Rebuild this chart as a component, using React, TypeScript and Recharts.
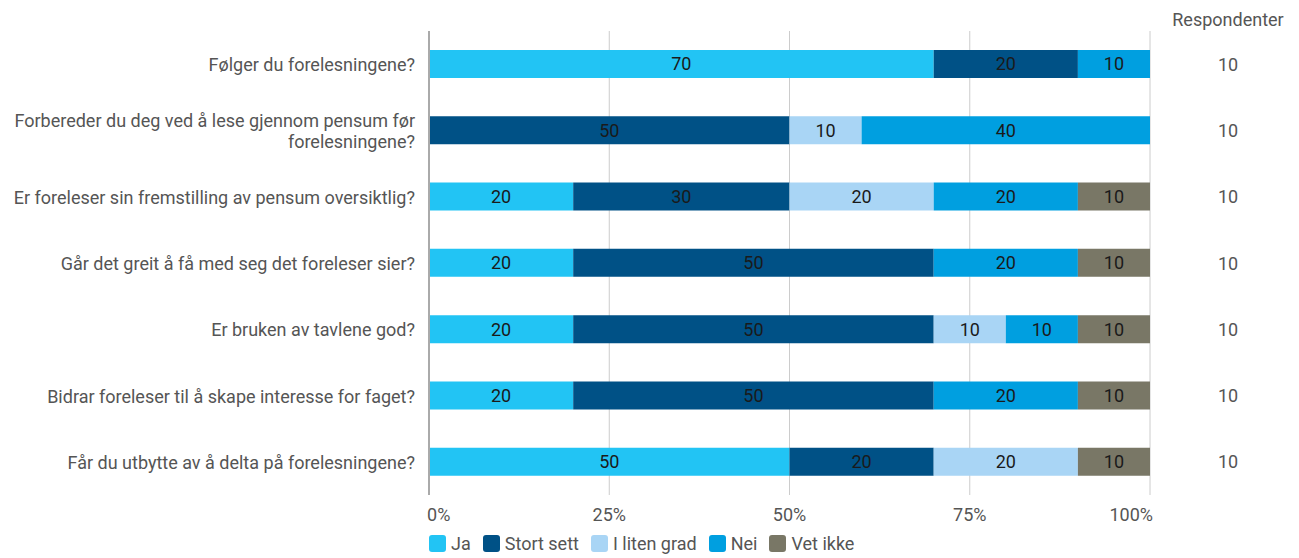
import React from "react";
import {
  BarChart,
  Bar,
  XAxis,
  YAxis,
  CartesianGrid,
  Legend,
  LabelList,
} from "recharts";

const questions = [
  "Følger du forelesningene?",
  "Forbereder du deg ved å lese gjennom pensum før forelesningene?",
  "Er foreleser sin fremstilling av pensum oversiktlig?",
  "Går det greit å få med seg det foreleser sier?",
  "Er bruken av tavlene god?",
  "Bidrar foreleser til å skape interesse for faget?",
  "Får du utbytte av å delta på forelesningene?",
];

const ja = [70, 0, 20, 20, 20, 20, 50];
const stortSett = [20, 50, 30, 50, 50, 50, 20];
const litenGrad = [0, 10, 20, 0, 10, 0, 20];
const nei = [10, 40, 20, 20, 10, 20, 0];
const vetIkke = [0, 0, 10, 10, 10, 10, 10];
const respondenter = [10, 10, 10, 10, 10, 10, 10];

const xTicks = [0, 25, 50, 75, 100];

const series = [
  { key: "ja", name: "Ja", color: "#22C4F4" },
  { key: "stortSett", name: "Stort sett", color: "#005186" },
  { key: "litenGrad", name: "I liten grad", color: "#A9D5F5" },
  { key: "nei", name: "Nei", color: "#009FE0" },
  { key: "vetIkke", name: "Vet ikke", color: "#797766" },
];

const data = questions.map((q, i) => ({
  q,
  ja: ja[i],
  stortSett: stortSett[i],
  litenGrad: litenGrad[i],
  nei: nei[i],
  vetIkke: vetIkke[i],
  resp: respondenter[i],
}));

const FONT = "Roboto, sans-serif";
const FS = 18;

function splitLabel(s: string): string[] {
  if (s.length <= 55) return [s];
  const words = s.split(" ");
  const lines: string[] = [];
  let cur = "";
  for (const w of words) {
    const next = cur ? cur + " " + w : w;
    if (next.length > 50 && cur) {
      lines.push(cur);
      cur = w;
    } else {
      cur = next;
    }
  }
  if (cur) lines.push(cur);
  return lines;
}

const LeftTick = (props: any) => {
  const { x, y, payload } = props;
  const lines = splitLabel(payload.value);
  const lh = 21;
  const start = y - ((lines.length - 1) * lh) / 2;
  return (
    <text
      x={x}
      y={start}
      textAnchor="end"
      fill="#555"
      fontSize={FS}
      fontFamily={FONT}
      dominantBaseline="central"
    >
      {lines.map((l, i) => (
        <tspan key={i} x={x} y={start + i * lh} dominantBaseline="central">
          {l}
        </tspan>
      ))}
    </text>
  );
};

const RightTick = (props: any) => {
  const { x, y, index } = props;
  return (
    <text
      x={x + 78}
      y={y}
      textAnchor="middle"
      dominantBaseline="central"
      fill="#555"
      fontSize={FS}
      fontFamily={FONT}
    >
      {respondenter[index]}
    </text>
  );
};

const BottomTick = (props: any) => {
  const { x, y, payload, index } = props;
  let anchor: "start" | "middle" | "end" = "middle";
  let dx = 0;
  if (index === 0) {
    anchor = "start";
    dx = -2;
  } else if (index === xTicks.length - 1) {
    anchor = "end";
    dx = 3;
  }
  return (
    <text
      x={x + dx}
      y={y + 11}
      textAnchor={anchor}
      dominantBaseline="central"
      fill="#555"
      fontSize={FS}
      fontFamily={FONT}
    >
      {payload.value}%
    </text>
  );
};

const LegendContent = () => (
  <div
    style={{
      display: "flex",
      alignItems: "center",
      paddingLeft: 429,
      height: 33,
      paddingTop: 4,
      boxSizing: "border-box",
      fontFamily: FONT,
      fontSize: FS,
      color: "#555",
    }}
  >
    {series.map((s) => (
      <div
        key={s.key}
        style={{ display: "flex", alignItems: "center", marginRight: 12 }}
      >
        <div
          style={{
            width: 17,
            height: 17,
            borderRadius: 3,
            background: s.color,
            marginRight: 5,
          }}
        />
        <span>{s.name}</span>
      </div>
    ))}
  </div>
);

export default function App() {
  return (
    <div
      style={{
        position: "absolute",
        left: 0,
        top: 0,
        width: 1299,
        height: 558,
        background: "#fff",
      }}
    >
      <div
        style={{
          position: "absolute",
          left: 1168,
          top: 9,
          width: 120,
          textAlign: "center",
          fontFamily: FONT,
          fontSize: FS,
          lineHeight: "22px",
          color: "#555",
        }}
      >
        Respondenter
      </div>
      <BarChart
        width={1299}
        height={558}
        data={data}
        layout="vertical"
        margin={{ top: 31, right: 0, bottom: 0, left: 0 }}
        barSize={28}
      >
        <CartesianGrid horizontal={false} stroke="#ccc" />
        <XAxis
          type="number"
          domain={[0, 100]}
          ticks={xTicks}
          axisLine={false}
          tickLine={false}
          height={30}
          tick={<BottomTick />}
          interval={0}
        />
        <YAxis
          yAxisId="left"
          type="category"
          dataKey="q"
          width={429}
          axisLine={{ stroke: "#aaa", strokeWidth: 2 }}
          tickLine={false}
          tickMargin={8}
          tick={<LeftTick />}
          interval={0}
        />
        <YAxis
          yAxisId="right"
          orientation="right"
          type="category"
          dataKey="q"
          width={149}
          axisLine={false}
          tickLine={false}
          tickSize={0}
          tickMargin={0}
          tick={<RightTick />}
          interval={0}
        />
        <Legend
          verticalAlign="bottom"
          content={<LegendContent />}
          wrapperStyle={{ left: 0, width: 1299 }}
        />
        {series.map((s) => (
          <Bar
            key={s.key}
            yAxisId="left"
            dataKey={s.key}
            name={s.name}
            stackId="a"
            fill={s.color}
            isAnimationActive={false}
          >
            <LabelList
              dataKey={s.key}
              position="center"
              fill="#1a1a1a"
              fontSize={FS}
              fontFamily={FONT}
              formatter={(v: any) => (v ? v : "")}
            />
          </Bar>
        ))}
      </BarChart>
    </div>
  );
}
